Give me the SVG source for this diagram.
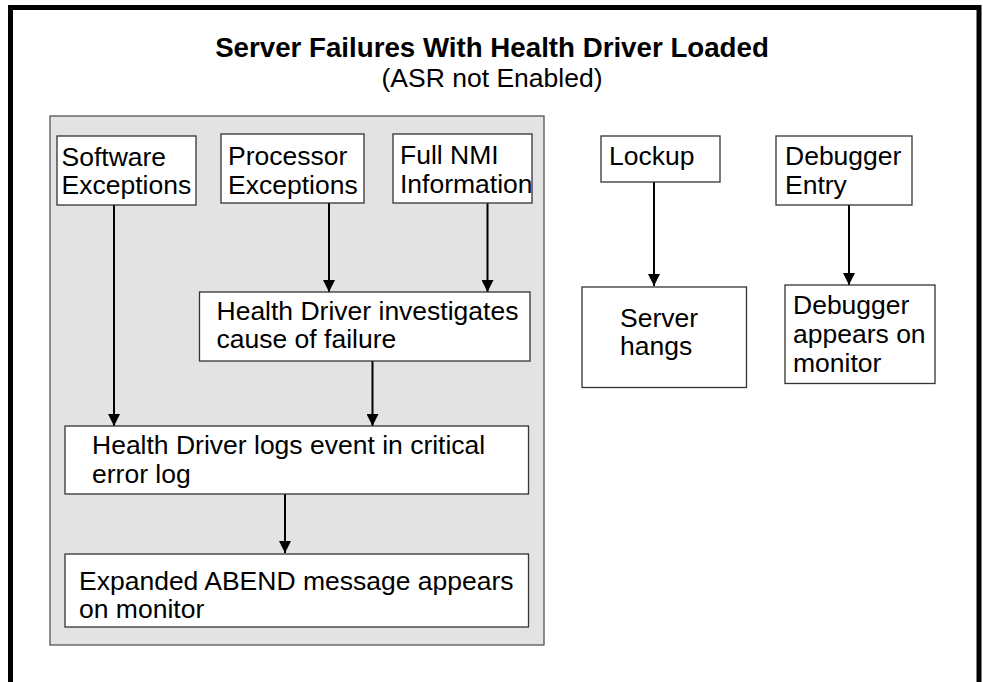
<svg xmlns="http://www.w3.org/2000/svg" width="983" height="682" viewBox="0 0 983 682">
<style>
  text { font-family: "Liberation Sans", Arial, sans-serif; font-size: 26.5px; fill: #000; }
  .title { font-weight: bold; font-size: 27.7px; }
  .box { fill: #fff; stroke: #333; stroke-width: 1.3; }
  .panel { fill: #e3e3e3; stroke: #555; stroke-width: 1.3; }
  .conn { stroke: #000; stroke-width: 2; fill: none; marker-end: url(#arrow); }
</style>
<defs>
  <marker id="arrow" markerUnits="userSpaceOnUse" markerWidth="14" markerHeight="12" refX="12" refY="6" orient="auto">
    <path d="M0,0 L12,6 L0,12 Z" fill="#000"/>
  </marker>
</defs>
<rect width="983" height="682" fill="#fff"/>
<path d="M10.5,700 V7.5 H979 V700" fill="none" stroke="#000" stroke-width="5"/>
<g id="title">
  <text class="title" x="492" y="57" text-anchor="middle">Server Failures With Health Driver Loaded</text>
  <text x="492" y="87" text-anchor="middle">(ASR not Enabled)</text>
</g>
<rect id="panel" class="panel" x="50" y="116" width="494" height="529"/>
<g id="connectors">
  <line class="conn" x1="114" y1="205" x2="114" y2="426"/>
  <line class="conn" x1="329" y1="203" x2="329" y2="292"/>
  <line class="conn" x1="487.5" y1="203" x2="487.5" y2="292"/>
  <line class="conn" x1="372.5" y1="361" x2="372.5" y2="426"/>
  <line class="conn" x1="285" y1="494" x2="285" y2="553"/>
  <line class="conn" x1="654" y1="182" x2="654" y2="286"/>
  <line class="conn" x1="849" y1="205" x2="849" y2="285"/>
</g>
<g id="software">
  <rect class="box" x="57" y="136" width="139" height="69"/>
  <text x="61.5" y="165.5">Software</text>
  <text x="61.5" y="194">Exceptions</text>
</g>
<g id="processor">
  <rect class="box" x="221" y="134" width="143" height="69"/>
  <text x="228" y="165">Processor</text>
  <text x="228" y="194">Exceptions</text>
</g>
<g id="nmi">
  <rect class="box" x="393" y="134" width="139" height="69"/>
  <text x="400" y="164">Full NMI</text>
  <text x="400" y="193">Information</text>
</g>
<g id="investigate">
  <rect class="box" x="199.5" y="292" width="330.5" height="69"/>
  <text x="216.5" y="319.5">Health Driver investigates</text>
  <text x="216.5" y="348">cause of failure</text>
</g>
<g id="log">
  <rect class="box" x="65" y="426" width="463.5" height="68"/>
  <text x="92" y="453.5">Health Driver logs event in critical</text>
  <text x="92" y="482.5">error log</text>
</g>
<g id="abend">
  <rect class="box" x="65" y="554" width="463.5" height="73"/>
  <text x="79" y="590">Expanded ABEND message appears</text>
  <text x="79" y="618">on monitor</text>
</g>
<g id="lockup">
  <rect class="box" x="601" y="136" width="119" height="46"/>
  <text x="609" y="165">Lockup</text>
</g>
<g id="hangs">
  <rect class="box" x="582" y="287" width="164.5" height="100.5"/>
  <text x="620" y="326.5">Server</text>
  <text x="620" y="355">hangs</text>
</g>
<g id="debugger-entry">
  <rect class="box" x="776" y="136" width="136" height="69"/>
  <text x="785" y="165">Debugger</text>
  <text x="785" y="194">Entry</text>
</g>
<g id="debugger-monitor">
  <rect class="box" x="785" y="285" width="150" height="98.5"/>
  <text x="793" y="314">Debugger</text>
  <text x="793" y="342.5">appears on</text>
  <text x="793" y="371.5">monitor</text>
</g>
</svg>
